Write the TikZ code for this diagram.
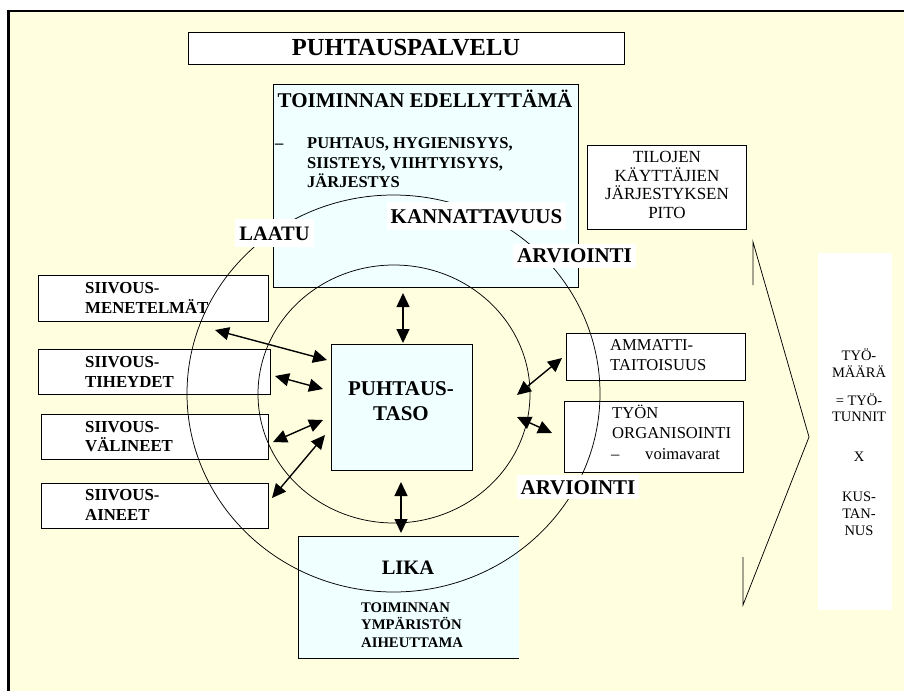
\documentclass[tikz,border=0pt]{standalone}
\usepackage{fontspec}
\setmainfont{Liberation Serif}[BoldFont={Liberation Serif Bold}]
\usetikzlibrary{arrows.meta}
\definecolor{paper}{HTML}{FFFFE0}
\definecolor{pale}{HTML}{F0FFFF}
\newcommand\fsz[2]{\fontsize{#1}{#2}\selectfont}
\tikzset{
  boxline/.style={draw=black, line width=0.8pt},
  whitebox/.style={boxline, fill=white, inner sep=0pt},
  palebox/.style={boxline, fill=pale, inner sep=0pt},
  txt/.style={inner sep=0pt, text=black},
  bline/.style={txt, anchor=base west, font=\bfseries\fsz{16.8}{20}},
  rline/.style={txt, anchor=base west, font=\fsz{16.6}{20}},
  cline/.style={txt, anchor=base, font=\fsz{17}{20}},
  nline/.style={txt, anchor=base, font=\fsz{14.5}{17}},
  tag/.style={fill=white, inner xsep=4pt, inner ysep=7pt, text height=14pt, text depth=0pt, font=\bfseries\fsz{21}{24}},
  ring/.style={draw=black, line width=0.75pt},
  link/.style={line width=1.4pt, {Triangle[length=14pt,width=13pt]}-{Triangle[length=14pt,width=13pt]}},
  chevron/.style={draw=black, line width=0.75pt},
}
\begin{document}
\begin{tikzpicture}[x=1pt,y=-1pt]
\useasboundingbox (0,0) rectangle (904,691);
\fill[white] (0,0) rectangle (904,691);
\fill[paper] (8,11) rectangle (904,691);
\draw[line width=2.2pt] (8.5,691) -- (8.5,11) -- (904,11);

% title
\node[whitebox, minimum width=436pt, minimum height=32pt, font=\bfseries\fsz{24.5}{28}] (title) at (406,48) {PUHTAUSPALVELU};

% requirements box
\node[palebox, minimum width=305pt, minimum height=203pt] (req) at (425.5,185.5) {};
\node[txt, anchor=base, font=\bfseries\fsz{21}{24}] (reqhead) at (425,107) {TOIMINNAN EDELLYTTÄMÄ};
\node[bline, font=\bfseries\fsz{16.5}{20}] (reqdash) at (275,148.5) {–};
\node[bline, font=\bfseries\fsz{16.5}{20}] (req1) at (307,148.5) {PUHTAUS, HYGIENISYYS,};
\node[bline, font=\bfseries\fsz{16.5}{20}] (req2) at (307,168) {SIISTEYS, VIIHTYISYYS,};
\node[bline, font=\bfseries\fsz{16.5}{20}] (req3) at (307,187.5) {JÄRJESTYS};

% users' order box
\node[whitebox, minimum width=159pt, minimum height=84pt] (users) at (666.5,187) {};
\node[cline] (users1) at (667,162.5) {TILOJEN};
\node[cline] (users2) at (667,181) {KÄYTTÄJIEN};
\node[cline] (users3) at (667,199.5) {JÄRJESTYKSEN};
\node[cline] (users4) at (667,218) {PITO};

% left factor boxes
\node[whitebox, minimum width=230pt, minimum height=46pt] (meth) at (153,298) {};
\node[bline] (meth1) at (85,293.5) {SIIVOUS-};
\node[bline] (meth2) at (85,313.5) {MENETELMÄT};
\node[whitebox, minimum width=232pt, minimum height=45pt] (freq) at (154,371.5) {};
\node[bline] (freq1) at (85,367.5) {SIIVOUS-};
\node[bline] (freq2) at (85,387.5) {TIHEYDET};
\node[whitebox, minimum width=227pt, minimum height=45pt] (tool) at (154.5,436.5) {};
\node[bline] (tool1) at (85,432.5) {SIIVOUS-};
\node[bline] (tool2) at (85,451.5) {VÄLINEET};
\node[whitebox, minimum width=227pt, minimum height=45pt] (agent) at (154.5,505.5) {};
\node[bline] (agent1) at (85,500.5) {SIIVOUS-};
\node[bline] (agent2) at (85,520.5) {AINEET};

% right factor boxes
\node[whitebox, minimum width=179pt, minimum height=47pt] (skill) at (655.5,356.5) {};
\node[rline] (skill1) at (610,350.5) {AMMATTI-};
\node[rline] (skill2) at (610,370) {TAITOISUUS};
\node[whitebox, minimum width=179pt, minimum height=71pt] (org) at (653.5,436.5) {};
\node[rline] (org1) at (612,418.5) {TYÖN};
\node[rline] (org2) at (612,438.5) {ORGANISOINTI};
\node[rline] (org3) at (611,459.5) {–};
\node[rline] (org4) at (645,459.5) {voimavarat};

% cleanliness level
\node[palebox, minimum width=141pt, minimum height=126pt] (level) at (401.5,407) {};
\node[txt, anchor=base, font=\bfseries\fsz{21}{24}] (level1) at (401,395) {PUHTAUS-};
\node[txt, anchor=base, font=\bfseries\fsz{21}{24}] (level2) at (401,420) {TASO};

% dirt box, open on its right side
\fill[pale] (298,536) rectangle (519,658);
\draw[line width=0.8pt] (519,536) -- (298,536) -- (298,658) -- (519,658);
\node[txt, anchor=base, font=\bfseries\fsz{20.5}{24}] (dirt) at (408,574) {LIKA};
\node[txt, anchor=base west, font=\bfseries\fsz{14.7}{17}] (dirt1) at (361,612) {TOIMINNAN};
\node[txt, anchor=base west, font=\bfseries\fsz{14.7}{17}] (dirt2) at (361,629.5) {YMPÄRISTÖN};
\node[txt, anchor=base west, font=\bfseries\fsz{14.7}{17}] (dirt3) at (361,647) {AIHEUTTAMA};

% workload column
\fill[white] (818,253) rectangle (892,610);
\node[nline] (w1) at (859,360) {TYÖ-};
\node[nline] (w2) at (859,377) {MÄÄRÄ};
\node[nline] (w3) at (859,405) {= TYÖ-};
\node[nline] (w4) at (859,421) {TUNNIT};
\node[nline] (w5) at (859,461) {X};
\node[nline] (w6) at (859,501) {KUS-};
\node[nline] (w7) at (859,518) {TAN-};
\node[nline] (w8) at (859,535) {NUS};

% chevron
\coordinate (chA) at (753,285);
\coordinate (chB) at (753,242);
\coordinate (chTip) at (809,437);
\coordinate (chC) at (743,605);
\coordinate (chD) at (743,557);
\draw[chevron] (chA) -- (chB) -- (chTip) -- (chC) -- (chD);

% rings
\draw[ring] (393.5,393.5) ellipse [x radius=206.5, y radius=198.5];
\draw[ring] (394,394) ellipse [x radius=136, y radius=129];

% ring labels
\node[tag, font=\bfseries\fsz{20.5}{24}] (quality) at (274.5,233) {LAATU};
\node[tag] (profit) at (476.5,216) {KANNATTAVUUS};
\node[tag, inner ysep=5pt] (evalup) at (574.5,255.5) {ARVIOINTI};
\node[tag, inner ysep=5pt] (evallow) at (578,487) {ARVIOINTI};

% connector ends
\coordinate (reqS) at (403,293);
\coordinate (levelN) at (403,343);
\coordinate (levelS) at (401,482);
\coordinate (dirtN) at (401,533);
\coordinate (methE) at (215,330);
\coordinate (levelW1) at (327,360);
\coordinate (freqE) at (275,376);
\coordinate (levelW2) at (323,389);
\coordinate (toolE) at (273,442);
\coordinate (levelW3) at (323,420);
\coordinate (agentE) at (272,498);
\coordinate (levelW4) at (325,435);
\coordinate (levelE1) at (517,395);
\coordinate (skillW) at (562,358);
\coordinate (levelE2) at (517,417);
\coordinate (orgW) at (552,433);

\draw[link] (reqS) -- (levelN);
\draw[link] (levelS) -- (dirtN);
\draw[link] (methE) -- (levelW1);
\draw[link] (freqE) -- (levelW2);
\draw[link] (toolE) -- (levelW3);
\draw[link] (agentE) -- (levelW4);
\draw[link] (levelE1) -- (skillW);
\draw[link] (levelE2) -- (orgW);
\end{tikzpicture}
\end{document}
